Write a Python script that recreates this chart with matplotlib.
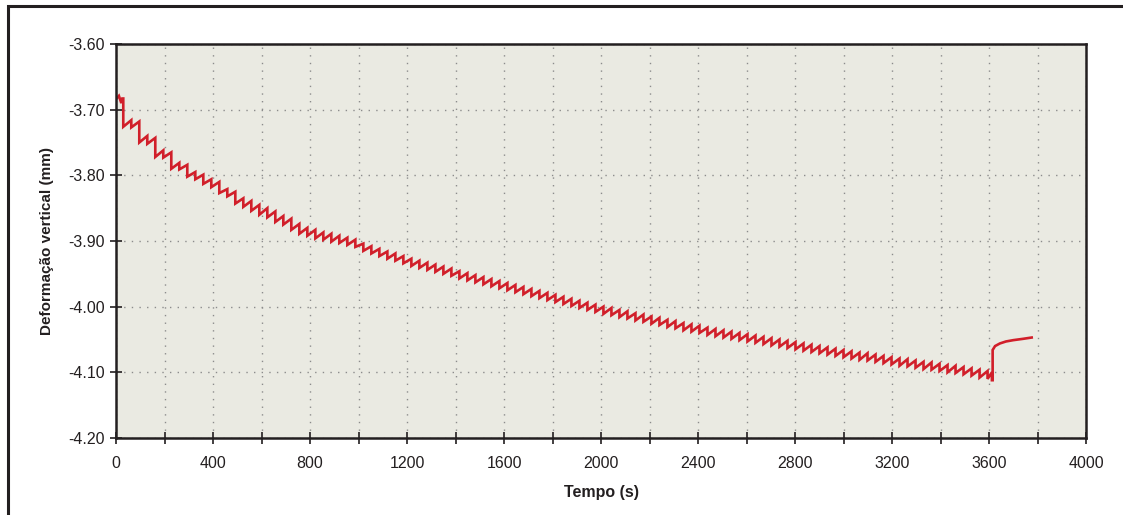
import matplotlib
matplotlib.use("Agg")
import matplotlib.pyplot as plt
from matplotlib.patches import Rectangle
from matplotlib.ticker import MultipleLocator, FormatStrFormatter

plt.rcParams['font.family'] = ['Liberation Sans', 'DejaVu Sans']

# Dados lidos do grafico
# inicio (antes do primeiro ciclo)
t_ini = [0, 12, 22, 26]
v_ini = [-3.684, -3.679, -3.690, -3.683]

# instantes das quedas de cada ciclo (s)
t_ciclo = [
    30, 63, 96, 129, 162, 195, 228, 261, 294, 327,
    360, 393, 426, 459, 492, 525, 558, 591, 624, 657,
    690, 723, 756, 789, 822, 855, 888, 921, 954, 987,
    1020, 1053, 1086, 1119, 1152, 1185, 1218, 1251, 1284, 1317,
    1350, 1383, 1416, 1449, 1482, 1515, 1548, 1581, 1614, 1647,
    1680, 1713, 1746, 1779, 1812, 1845, 1878, 1911, 1944, 1977,
    2010, 2043, 2076, 2109, 2142, 2175, 2208, 2241, 2274, 2307,
    2340, 2373, 2406, 2439, 2472, 2505, 2538, 2571, 2604, 2637,
    2670, 2703, 2736, 2769, 2802, 2835, 2868, 2901, 2934, 2967,
    3000, 3033, 3066, 3099, 3132, 3165, 3198, 3231, 3264, 3297,
    3330, 3363, 3396, 3429, 3462, 3495, 3528, 3561, 3594, 3612,
]
# valor antes da queda (topo) e depois (fundo), mm
v_topo = [
    -3.683, -3.716, -3.718, -3.740, -3.743, -3.762, -3.765, -3.781, -3.784, -3.795,
    -3.799, -3.806, -3.810, -3.821, -3.825, -3.835, -3.839, -3.845, -3.850, -3.855,
    -3.862, -3.866, -3.874, -3.880, -3.883, -3.887, -3.889, -3.892, -3.895, -3.898,
    -3.904, -3.908, -3.912, -3.916, -3.919, -3.923, -3.927, -3.930, -3.933, -3.936,
    -3.939, -3.942, -3.946, -3.949, -3.952, -3.955, -3.958, -3.961, -3.964, -3.967,
    -3.970, -3.973, -3.976, -3.979, -3.982, -3.985, -3.988, -3.991, -3.994, -3.997,
    -4.000, -4.002, -4.005, -4.007, -4.010, -4.012, -4.015, -4.017, -4.020, -4.022,
    -4.025, -4.027, -4.029, -4.032, -4.034, -4.036, -4.038, -4.040, -4.042, -4.044,
    -4.046, -4.048, -4.050, -4.052, -4.054, -4.056, -4.058, -4.060, -4.062, -4.064,
    -4.066, -4.068, -4.070, -4.071, -4.073, -4.075, -4.077, -4.079, -4.080, -4.082,
    -4.084, -4.085, -4.087, -4.089, -4.090, -4.092, -4.094, -4.096, -4.098, -4.100,
]
v_fundo = [
    -3.726, -3.727, -3.750, -3.752, -3.772, -3.773, -3.790, -3.791, -3.802, -3.806,
    -3.813, -3.818, -3.827, -3.832, -3.843, -3.848, -3.854, -3.860, -3.864, -3.871,
    -3.875, -3.883, -3.889, -3.892, -3.896, -3.898, -3.901, -3.903, -3.906, -3.909,
    -3.915, -3.919, -3.923, -3.927, -3.930, -3.934, -3.938, -3.941, -3.944, -3.947,
    -3.950, -3.953, -3.957, -3.960, -3.963, -3.966, -3.969, -3.972, -3.975, -3.978,
    -3.981, -3.984, -3.987, -3.990, -3.993, -3.996, -3.999, -4.002, -4.005, -4.008,
    -4.011, -4.013, -4.016, -4.018, -4.021, -4.023, -4.026, -4.028, -4.031, -4.033,
    -4.036, -4.038, -4.040, -4.043, -4.045, -4.047, -4.049, -4.051, -4.053, -4.055,
    -4.057, -4.059, -4.061, -4.063, -4.065, -4.067, -4.069, -4.071, -4.073, -4.075,
    -4.077, -4.079, -4.081, -4.082, -4.084, -4.086, -4.088, -4.090, -4.091, -4.093,
    -4.095, -4.096, -4.098, -4.100, -4.101, -4.103, -4.105, -4.108, -4.110, -4.112,
]
# recuperacao apos o descarregamento
t_rec = [3615, 3615, 3625, 3645, 3670, 3700, 3740, 3776]
v_rec = [-4.112, -4.066, -4.060, -4.056, -4.053, -4.051, -4.049, -4.047]

# monta a serie completa (topo e fundo no mesmo instante -> queda vertical)
t = list(t_ini)
v = list(v_ini)
for tc, vt, vf in zip(t_ciclo, v_topo, v_fundo):
    t += [tc, tc]
    v += [vt, vf]
t += t_rec
v += v_rec

fig = plt.figure(figsize=(11.23, 5.15), dpi=100)
ax = fig.add_axes([116 / 1123, 1 - 438 / 515, 970 / 1123, 394 / 515])

ax.set_facecolor('#eaeae2')
ax.plot(t, v, color='#d11f2a', linewidth=1.9, solid_joinstyle='miter')

ax.set_xlim(0, 4000)
ax.set_ylim(-4.20, -3.60)
ax.xaxis.set_major_locator(MultipleLocator(400))
ax.xaxis.set_minor_locator(MultipleLocator(200))
ax.yaxis.set_major_locator(MultipleLocator(0.1))
ax.yaxis.set_major_formatter(FormatStrFormatter('%.2f'))

ax.grid(True, which='both', axis='x', color='#8c8c8c', linestyle=(0, (1, 4.5)), linewidth=1)
ax.grid(True, which='major', axis='y', color='#8c8c8c', linestyle=(0, (1, 4.5)), linewidth=1)
ax.set_axisbelow(True)

for s in ax.spines.values():
    s.set_color('#231f20')
    s.set_linewidth(1.8)

ax.tick_params(which='both', direction='inout', length=8, width=1.2, color='#231f20',
               labelsize=11.5, labelcolor='#231f20')
ax.tick_params(axis='x', pad=9)
ax.tick_params(axis='y', pad=4)

ax.set_xlabel("Tempo (s)", fontsize=11.5, fontweight='bold', color='#231f20', labelpad=10)
ax.set_ylabel("Deformação vertical (mm)", fontsize=11, fontweight='bold', color='#231f20', labelpad=10)

# moldura da figura (so topo e esquerda visiveis)
fig.patches.append(Rectangle((8 / 1123, -0.2), 1.2, 1.2 - 6 / 515,
                             transform=fig.transFigure, fill=False,
                             edgecolor='#231f20', linewidth=2.2, figure=fig))

plt.savefig("out.png", dpi=100)
